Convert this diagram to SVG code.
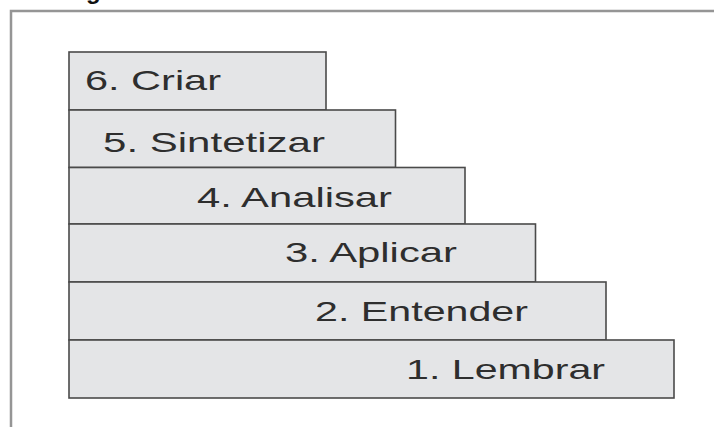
<svg xmlns="http://www.w3.org/2000/svg" width="714" height="427" viewBox="0 0 714 427">
  <style>
    .frame { fill: none; stroke: #959595; stroke-width: 2.5; }
    .step { fill: #e4e5e7; stroke: #4a4a4a; stroke-width: 1.6; }
    .lbl { font-family: "Liberation Sans", Arial, sans-serif; font-size: 28px; fill: #2e2e2e; }
    .ttl { font-family: "Liberation Sans", Arial, sans-serif; font-size: 24px; font-weight: bold; fill: #111; }
  </style>
  <rect width="714" height="427" fill="#ffffff"/>
  <text class="ttl" x="86" y="-1">g</text>
  <g id="frame">
    <path class="frame" d="M11,427 V11 H714"/>
  </g>
  <g id="step6">
    <rect class="step" x="69" y="52" width="257" height="58"/>
    <text class="lbl" x="85" y="90" textLength="136" lengthAdjust="spacingAndGlyphs">6. Criar</text>
  </g>
  <g id="step5">
    <rect class="step" x="69" y="110" width="326.5" height="57.5"/>
    <text class="lbl" x="103" y="152" textLength="222" lengthAdjust="spacingAndGlyphs">5. Sintetizar</text>
  </g>
  <g id="step4">
    <rect class="step" x="69" y="167.5" width="396" height="56.5"/>
    <text class="lbl" x="197" y="207" textLength="195" lengthAdjust="spacingAndGlyphs">4. Analisar</text>
  </g>
  <g id="step3">
    <rect class="step" x="69" y="224" width="466.5" height="58"/>
    <text class="lbl" x="285" y="262" textLength="172" lengthAdjust="spacingAndGlyphs">3. Aplicar</text>
  </g>
  <g id="step2">
    <rect class="step" x="69" y="282" width="537" height="58"/>
    <text class="lbl" x="315" y="321" textLength="213" lengthAdjust="spacingAndGlyphs">2. Entender</text>
  </g>
  <g id="step1">
    <rect class="step" x="69" y="340" width="605" height="58"/>
    <text class="lbl" x="406" y="379" textLength="199" lengthAdjust="spacingAndGlyphs">1. Lembrar</text>
  </g>
  <g id="connectors"></g>
</svg>
